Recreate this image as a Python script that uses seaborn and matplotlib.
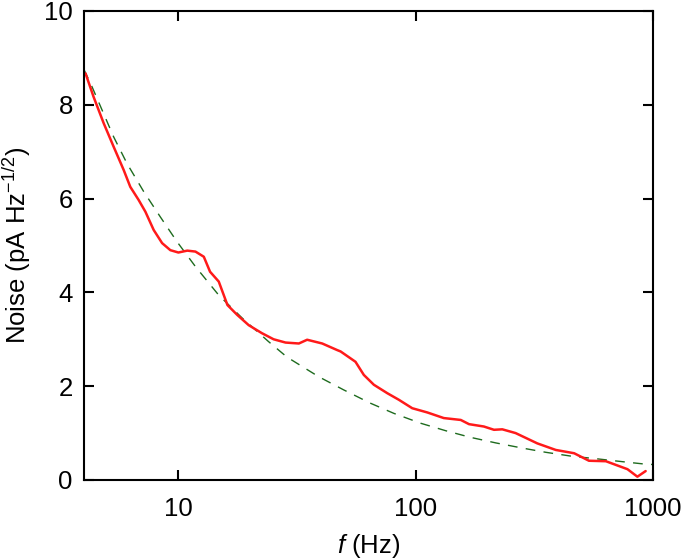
import numpy as np
import pandas as pd
import matplotlib
matplotlib.use("Agg")
import matplotlib.pyplot as plt
import seaborn as sns

# measured noise spectrum (red)
freq_meas = [4.06, 4.39, 4.84, 5.33, 5.88, 6.27, 6.80, 7.26, 7.87, 8.54, 9.25, 10.0,
             10.9, 11.8, 12.8, 13.6, 14.8, 16.1, 17.7, 19.8, 22.5, 25.2, 28.3, 32.2,
             34.9, 40.4, 46.7, 48.3, 55.8, 60.5, 66.7, 76.0, 85.0, 96.8, 112, 131.5,
             155, 168, 194, 214, 232, 264, 326, 390, 466, 538, 634, 782, 861, 933]
noise_meas = [8.67, 8.17, 7.61, 7.11, 6.61, 6.25, 5.97, 5.72, 5.33, 5.05, 4.90, 4.85,
              4.89, 4.87, 4.76, 4.44, 4.23, 3.73, 3.52, 3.30, 3.13, 3.00, 2.93, 2.91,
              2.99, 2.91, 2.77, 2.74, 2.52, 2.24, 2.03, 1.85, 1.71, 1.53, 1.44, 1.32,
              1.28, 1.19, 1.14, 1.07, 1.08, 1.00, 0.78, 0.64, 0.57, 0.41, 0.40, 0.23,
              0.07, 0.19]

# fitted curve (green dashed)
freq_fit = [4.0, 4.32, 5.33, 6.07, 7.14, 8.39, 9.87, 11.8, 14.8, 18.6, 24.0, 28.7,
            39.1, 49.8, 64.3, 81, 105, 134, 170, 218, 282, 354, 450, 584, 745, 920, 1000]
noise_fit = [8.75, 8.39, 7.32, 6.75, 6.15, 5.61, 5.08, 4.55, 3.94, 3.45, 2.95, 2.62,
             2.20, 1.92, 1.64, 1.42, 1.21, 1.05, 0.91, 0.79, 0.68, 0.59, 0.51, 0.45,
             0.39, 0.34, 0.33]

x_ticks = [10, 100, 1000]
x_ticklabels = ["10", "100", "1000"]
y_ticks = [0, 2, 4, 6, 8, 10]

sns.set_style("ticks")
plt.rcParams['font.family'] = ['Liberation Sans', 'DejaVu Sans']
plt.rcParams['mathtext.fontset'] = 'custom'
plt.rcParams['mathtext.rm'] = 'Liberation Sans'
plt.rcParams['mathtext.it'] = 'Liberation Sans:italic'
plt.rcParams['text.color'] = 'black'
plt.rcParams['axes.labelcolor'] = 'black'
plt.rcParams['xtick.color'] = 'black'
plt.rcParams['ytick.color'] = 'black'

df_meas = pd.DataFrame({"f": freq_meas, "noise": noise_meas})
df_fit = pd.DataFrame({"f": freq_fit, "noise": noise_fit})

fig = plt.figure(figsize=(6.85, 5.6), dpi=100)
ax = fig.add_axes([0.1226, 0.1429, 0.8304, 0.8375])

sns.lineplot(data=df_fit, x="f", y="noise", ax=ax, color="#1e6b1e", lw=1.0,
             dashes=False, linestyle=(0, (7, 6)), sort=True)
sns.lineplot(data=df_meas, x="f", y="noise", ax=ax, color="#ff1a1a", lw=1.8, sort=True)

ax.set_xscale("log")
ax.set_xlim(4, 1000)
ax.set_ylim(0, 10)
ax.set_xticks(x_ticks)
ax.set_xticklabels(x_ticklabels)
ax.xaxis.set_minor_locator(matplotlib.ticker.NullLocator())
ax.set_yticks(y_ticks)

for s in ax.spines.values():
    s.set_linewidth(1.5)
    s.set_color("black")
ax.tick_params(axis="both", which="major", direction="in", length=7, width=1.5,
               labelsize=18.5, top=True, right=True, pad=8,
               colors="black", labelcolor="black")
ax.tick_params(axis="x", pad=12)

ax.set_xlabel("$f$ (Hz)", fontsize=18.5, labelpad=8, color="black")
ax.set_ylabel("Noise (pA Hz$^{-1/2}$)", fontsize=18.5, labelpad=8, color="black")

fig.savefig("out.png", dpi=100)
